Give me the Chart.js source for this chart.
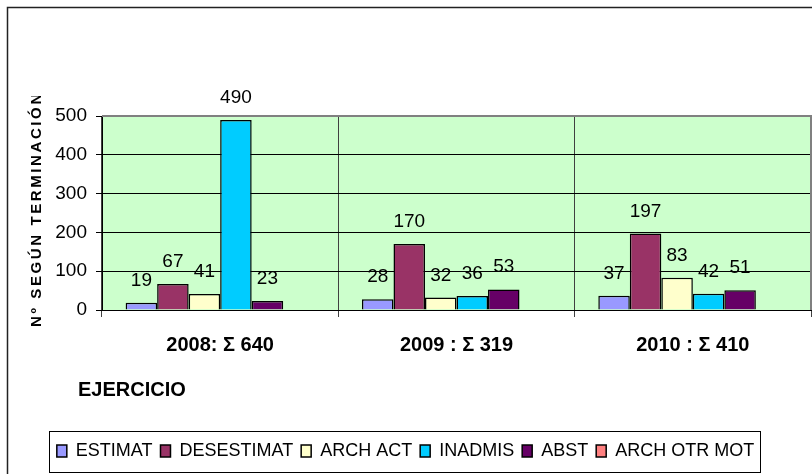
<!DOCTYPE html>
<html lang="es">
<head>
<meta charset="UTF-8">
<title>Nº según terminación</title>
<script src="https://cdn.jsdelivr.net/npm/chart.js"></script>
<style>
  html, body { margin: 0; padding: 0; background: #fff; }
  #wrap { width: 812px; height: 474px; }
</style>
</head>
<body>
<div id="wrap"><canvas id="chart" width="812" height="474"></canvas></div>
<script>
// data
const categories = ['2008: Σ 640', '2009 : Σ 319', '2010 : Σ 410'];
const estimat    = [19, 28, 37];
const desestimat = [67, 170, 197];
const archAct    = [41, 32, 83];
const inadmis    = [490, 36, 42];
const abst       = [23, 53, 51];
const archOtrMot = [0, 0, 0];
const yTicks     = [0, 100, 200, 300, 400, 500];

const SANS = "'Liberation Sans', Arial, sans-serif";

function ds(label, data, color) {
  return { label, data, backgroundColor: color, borderColor: '#000', borderWidth: 1.5 };
}

// background, frames, titles and value labels
const decor = {
  id: 'decor',
  beforeDraw(chart) {
    const { ctx, chartArea: a } = chart;
    ctx.save();
    ctx.fillStyle = '#ccffcc';
    ctx.fillRect(a.left, a.top, a.right - a.left, a.bottom - a.top);
    ctx.restore();
  },
  afterDatasetsDraw(chart) {
    const { ctx } = chart;
    ctx.save();
    ctx.font = '19px ' + SANS;
    ctx.fillStyle = '#000';
    ctx.textAlign = 'center';
    ctx.textBaseline = 'alphabetic';
    chart.data.datasets.forEach((d, i) => {
      chart.getDatasetMeta(i).data.forEach((bar, j) => {
        const v = d.data[j];
        if (!v) return;
        ctx.fillText(String(v), bar.x, bar.y - 17);
      });
    });
    ctx.restore();
  },
  afterDraw(chart) {
    const { ctx, chartArea: a } = chart;
    ctx.save();
    // plot border (top / right)
    ctx.strokeStyle = '#808080';
    ctx.lineWidth = 2;
    ctx.beginPath();
    ctx.moveTo(a.left, a.top);
    ctx.lineTo(a.right, a.top);
    ctx.lineTo(a.right, a.bottom);
    ctx.stroke();

    // outer frame
    ctx.strokeStyle = '#222';
    ctx.lineWidth = 1.5;
    ctx.beginPath();
    ctx.moveTo(7.5, 474);
    ctx.lineTo(7.5, 7.5);
    ctx.lineTo(812, 7.5);
    ctx.stroke();

    // y title, clipped at the top like the original
    ctx.save();
    ctx.beginPath();
    ctx.rect(0, 96, 100, 300);
    ctx.clip();
    ctx.translate(37, 327);
    ctx.rotate(-Math.PI / 2);
    ctx.font = 'bold 15px ' + SANS;
    ctx.letterSpacing = '2.6px';
    ctx.fillStyle = '#000';
    ctx.textBaseline = 'middle';
    ctx.textAlign = 'left';
    ctx.fillText('Nº SEGÚN TERMINACIÓN', 0, 0);
    ctx.restore();

    // x title
    ctx.font = 'bold 20px ' + SANS;
    ctx.fillStyle = '#000';
    ctx.textAlign = 'left';
    ctx.textBaseline = 'alphabetic';
    ctx.fillText('EJERCICIO', 78, 396);

    // legend frame
    const hb = chart.legend.legendHitBoxes;
    if (hb && hb.length) {
      const first = hb[0], last = hb[hb.length - 1];
      const l = Math.round(first.left - 8) + 0.5;
      const r = Math.round(last.left + last.width + 6) + 0.5;
      const t = Math.round(first.top - 11) + 0.5;
      const b = Math.round(first.top + 30) + 0.5;
      ctx.strokeStyle = '#000';
      ctx.lineWidth = 1;
      ctx.strokeRect(l, t, r - l, b - t);
    }
    ctx.restore();
  }
};

new Chart(document.getElementById('chart'), {
  type: 'bar',
  data: {
    labels: categories,
    datasets: [
      ds('ESTIMAT', estimat, '#9999ff'),
      ds('DESESTIMAT', desestimat, '#993366'),
      ds('ARCH ACT', archAct, '#ffffcc'),
      ds('INADMIS', inadmis, '#00ccff'),
      ds('ABST', abst, '#660066'),
      ds('ARCH OTR MOT', archOtrMot, '#ff8080')
    ]
  },
  options: {
    responsive: false,
    animation: false,
    devicePixelRatio: 1,
    layout: { padding: { left: 0, right: 1, top: 116, bottom: 4 } },
    datasets: { bar: { categoryPercentage: 0.8, barPercentage: 1.0 } },
    scales: {
      x: {
        afterFit(scale) { scale.height = 124; },
        grid: { color: '#404040', lineWidth: 1, tickLength: 7, offset: true },
        border: { color: '#000', width: 1 },
        ticks: { color: '#000', padding: 16, font: { family: SANS, size: 20, weight: 'bold' } }
      },
      y: {
        min: yTicks[0],
        max: yTicks[yTicks.length - 1],
        afterFit(scale) { scale.width = 102; },
        afterBuildTicks(scale) { scale.ticks = yTicks.map(v => ({ value: v })); },
        grid: { color: '#000', lineWidth: 1, tickLength: 6 },
        border: { color: '#000', width: 1 },
        ticks: { color: '#000', padding: 9, font: { family: SANS, size: 19 } }
      }
    },
    plugins: {
      legend: {
        position: 'bottom',
        labels: {
          color: '#000',
          boxWidth: 10,
          boxHeight: 12,
          padding: 8,
          font: { family: SANS, size: 18 }
        }
      },
      tooltip: { enabled: false }
    }
  },
  plugins: [decor]
});
</script>
</body>
</html>
